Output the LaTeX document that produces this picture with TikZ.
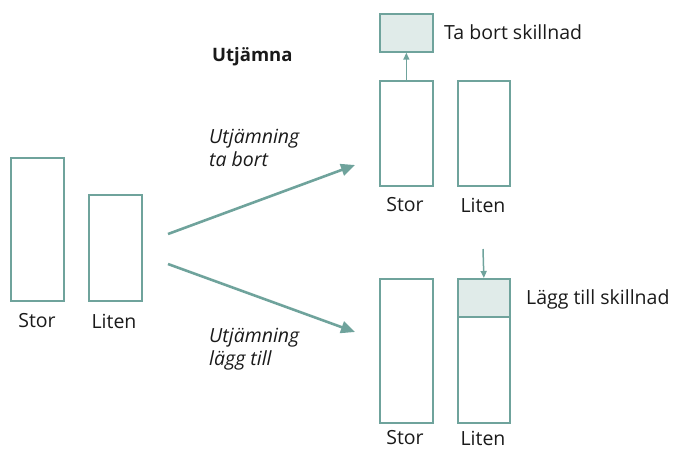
\documentclass[tikz,border=0pt]{standalone}
\usepackage{fontspec}
\setmainfont{Open Sans}
\usetikzlibrary{arrows.meta}
\definecolor{teal}{HTML}{6FA39C}
\definecolor{tealfill}{HTML}{E0EBE9}
\definecolor{ink}{HTML}{1A1A1A}
\tikzset{
  bar/.style={draw=teal, line width=1.7pt, fill=white, anchor=north west, inner sep=0pt, minimum width=53pt},
  diffbox/.style={bar, fill=tealfill},
  lbl/.style={text=ink, font=\fontsize{19.5}{21}\selectfont, inner sep=0pt},
  sidetext/.style={lbl, anchor=west},
  note/.style={lbl, anchor=west, font=\fontsize{19.5}{23.5}\selectfont\itshape, align=left},
  bigarrow/.style={draw=teal, line width=2.6pt, -{Triangle[length=14pt,width=12pt]}},
  smallarrow/.style={draw=teal, line width=1.5pt, -{Triangle[length=7pt,width=6pt]}}
}
\begin{document}
\begin{tikzpicture}[x=1pt,y=-1pt]
\useasboundingbox (0,0) rectangle (677,448);

% starting pair
\node[bar, minimum height=143pt] (s0) at (10,157) {};
\node[bar, minimum height=106pt] (l0) at (88,194) {};
\node[lbl] (s0t) at (37,321) {Stor};
\node[lbl] (l0t) at (114,321) {Liten};

% removing the difference
\node[lbl, font=\fontsize{18.5}{20}\selectfont\bfseries, anchor=west] (title) at (212,57) {Utjämna};
\node[diffbox, minimum height=38pt] (cut) at (379,13) {};
\node[sidetext] (cutt) at (444,32) {Ta bort skillnad};
\node[bar, minimum height=105pt] (s1) at (379,80) {};
\node[bar, minimum height=105pt, minimum width=52pt] (l1) at (457,80) {};
\node[lbl] (s1t) at (405,205) {Stor};
\node[lbl] (l1t) at (483,205) {Liten};
\draw[smallarrow] (s1.north) -- (cut.south);

% adding the difference
\node[bar, minimum height=144pt] (s2) at (379,278) {};
\node[bar, minimum height=144pt, minimum width=52pt] (l2) at (457,278) {};
\node[diffbox, minimum height=38pt, minimum width=52pt] (add) at (457,278) {};
\node[sidetext] (addt) at (526,299) {Lägg till skillnad};
\node[lbl] (s2t) at (405,438) {Stor};
\node[lbl] (l2t) at (483,438) {Liten};
\coordinate (drop) at (483,249);
\draw[smallarrow] (drop) -- (add.north);

% transitions
\coordinate (a1) at (168,234);
\coordinate (b1) at (355,165);
\coordinate (a2) at (168,264);
\coordinate (b2) at (355,332);
\draw[bigarrow] (a1) -- (b1);
\draw[bigarrow] (a2) -- (b2);
\node[note] (n1) at (209,148) {Utjämning\\ta bort};
\node[note] (n2) at (209,349) {Utjämning\\lägg till};
\end{tikzpicture}
\end{document}
